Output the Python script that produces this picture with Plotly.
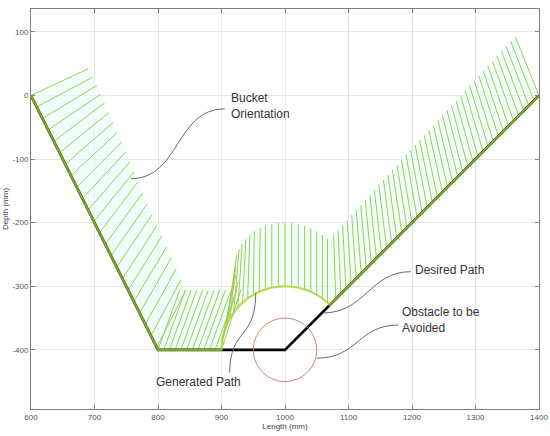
import plotly.graph_objects as go
import math

# ---------------- data ----------------
desired_x = [600, 800, 1000, 1400]
desired_y = [0, -400, -400, 0]

obstacle_center = [1000, -400]
obstacle_radius = 50

# generated path: straight part, then arc around obstacle, then back on desired line
gen_line_x = [600, 800, 900]
gen_line_y = [0, -400, -400]
gen_arc_center = [1000, -400]
gen_arc_radius = 100
gen_arc_deg = [180, 45]
gen_end_x = [1400]
gen_end_y = [0]

# bucket orientation hatches: start points on the path and bucket angle (deg)
hatch_x = [600, 609, 618, 627, 636, 645, 654, 663, 672, 681, 690, 699, 708, 717, 726, 735, 744, 753, 762, 771, 780, 789, 798,
           800, 809, 818, 827, 836, 845, 854, 863, 872, 881, 890,
           900.0, 900.5, 902.2, 904.9, 908.6, 913.4, 919.1, 925.7, 933.1, 941.2, 950.0, 959.3, 969.1, 979.2, 989.5, 1000.0,
           1010.5, 1020.8, 1030.9, 1040.7, 1050.0, 1058.8, 1066.9,
           1080, 1088, 1096, 1104, 1112, 1120, 1128, 1136, 1144, 1152, 1160, 1168, 1176, 1184, 1192, 1200, 1208, 1216, 1224,
           1232, 1240, 1248, 1256, 1264, 1272, 1280, 1288, 1296, 1304, 1312, 1320, 1328, 1336, 1344, 1352, 1360, 1368, 1376,
           1384, 1392, 1400]
hatch_y = [0, -18, -36, -54, -72, -90, -108, -126, -144, -162, -180, -198, -216, -234, -252, -270, -288, -306, -324, -342, -360, -378, -396,
           -400, -400, -400, -400, -400, -400, -400, -400, -400, -400, -400,
           -400.0, -389.5, -379.2, -369.1, -359.3, -350.0, -341.2, -333.1, -325.7, -319.1, -313.4, -308.6, -304.9, -302.2, -300.5, -300.0,
           -300.5, -302.2, -304.9, -308.6, -313.4, -319.1, -325.7,
           -320, -312, -304, -296, -288, -280, -272, -264, -256, -248, -240, -232, -224, -216, -208, -200, -192, -184, -176,
           -168, -160, -152, -144, -136, -128, -120, -112, -104, -96, -88, -80, -72, -64, -56, -48, -40, -32, -24,
           -16, -8, 0]
hatch_angle = [25, 28, 31, 34, 37, 39, 41, 43, 45, 47, 49, 51, 53, 54, 55, 56, 57, 58, 59, 60, 61, 62, 63,
               70, 70, 70, 70, 70, 70, 70, 70, 70, 70, 70,
               72, 75, 78, 80, 82, 84, 85, 86, 87, 88, 89, 89, 90, 90, 90, 90,
               90, 90, 90, 90, 90, 90, 90,
               92, 92.5, 93, 93.5, 94, 94.5, 95, 95.5, 96, 96.5, 97, 97.5, 98, 98.5, 99, 99.5, 100, 100.5, 101,
               101.5, 102, 102.5, 103, 103.5, 104, 104.5, 105, 105.5, 106, 106.5, 107, 107.5, 108, 108.5, 109, 109.5, 110,
               110.5, 111, 111.5, 112]
bucket_len = 100

x_ticks = [600, 700, 800, 900, 1000, 1100, 1200, 1300, 1400]
y_ticks = [-400, -300, -200, -100, 0, 100]
y_ticktext = ["-400", "-300", "-200", "-100", "0", "100"]

labels = ["Bucket<br>Orientation", "Desired Path", "Obstacle to be<br>Avoided", "Generated Path"]
label_x = [912, 1201, 1181, 794]
label_y = [-17, -274, -353, -451]

# connector curves (cubic bezier in data units): start, ctrl1, ctrl2, end
connectors = [
    [(757, -131), (835, -131), (827, -21), (905, -21)],
    [(1060, -342), (1126, -342), (1134, -277), (1198, -277)],
    [(1050, -413), (1115, -413), (1115, -361), (1178, -361)],
    [(954, -310), (954, -385), (913, -365), (913, -436)],
]

# ---------------- build ----------------
tips_x, tips_y = [], []
seg_x, seg_y = [], []
for x0, y0, a in zip(hatch_x, hatch_y, hatch_angle):
    tx = x0 + bucket_len * math.cos(math.radians(a))
    ty = y0 + bucket_len * math.sin(math.radians(a))
    tips_x.append(tx); tips_y.append(ty)
    seg_x += [x0, tx, None]; seg_y += [y0, ty, None]

fig = go.Figure()

# pale fill between path and bucket tips
fig.add_trace(go.Scatter(
    x=hatch_x + tips_x[::-1], y=hatch_y + tips_y[::-1],
    fill="toself", fillcolor="rgba(228,255,246,0.5)", line=dict(width=0),
    mode="lines", hoverinfo="skip"))

fig.add_trace(go.Scatter(x=seg_x, y=seg_y, mode="lines",
                         line=dict(color="#9ccd56", width=1), hoverinfo="skip"))

# desired path
fig.add_trace(go.Scatter(x=desired_x, y=desired_y, mode="lines",
                         line=dict(color="black", width=2.6)))

# generated path
arc_steps = 60
a0, a1 = gen_arc_deg
arc_x = [gen_arc_center[0] + gen_arc_radius * math.cos(math.radians(a0 + (a1 - a0) * k / arc_steps)) for k in range(arc_steps + 1)]
arc_y = [gen_arc_center[1] + gen_arc_radius * math.sin(math.radians(a0 + (a1 - a0) * k / arc_steps)) for k in range(arc_steps + 1)]
fig.add_trace(go.Scatter(x=gen_line_x + arc_x + gen_end_x, y=gen_line_y + arc_y + gen_end_y, mode="lines",
                         line=dict(color="rgba(170,210,45,0.78)", width=2.2)))

shapes = [dict(type="circle", xref="x", yref="y",
               x0=obstacle_center[0] - obstacle_radius, x1=obstacle_center[0] + obstacle_radius,
               y0=obstacle_center[1] - obstacle_radius, y1=obstacle_center[1] + obstacle_radius,
               line=dict(color="#c98a74", width=1))]
for (p0, c1, c2, p1) in connectors:
    shapes.append(dict(type="path", xref="x", yref="y",
                       path=f"M {p0[0]},{p0[1]} C {c1[0]},{c1[1]} {c2[0]},{c2[1]} {p1[0]},{p1[1]}",
                       line=dict(color="#6a6a6a", width=1)))

annotations = [dict(x=lx, y=ly, xref="x", yref="y", text=t, showarrow=False,
                    xanchor="left", yanchor="middle", align="left",
                    font=dict(family="Liberation Sans, Arial", size=12, color="#333333"))
               for t, lx, ly in zip(labels, label_x, label_y)]

axis_common = dict(ticks="inside", ticklen=4, tickcolor="#7f7f7f", showline=True,
                   linecolor="#7f7f7f", linewidth=1, mirror="ticks", showgrid=True,
                   gridcolor="#e6e6e6", gridwidth=1, zeroline=False, automargin=False,
                   tickfont=dict(family="Liberation Sans, Arial", size=8, color="#555555"))

fig.update_layout(
    width=550, height=436, autosize=False,
    margin=dict(l=31, r=11, t=9, b=27),
    paper_bgcolor="white", plot_bgcolor="white",
    showlegend=False,
    shapes=shapes, annotations=annotations,
    xaxis=dict(range=[600, 1400], tickvals=x_ticks,
               title=dict(text="Length (mm)", standoff=2,
                          font=dict(family="Liberation Sans, Arial", size=8, color="#444444")),
               **axis_common),
    yaxis=dict(range=[-493, 136], tickvals=y_ticks, ticktext=y_ticktext,
               title=dict(text="Depth (mm)", standoff=2,
                          font=dict(family="Liberation Sans, Arial", size=8, color="#444444")),
               **axis_common),
)

fig.write_html("out.html", config={"displayModeBar": False},
               post_script="document.body.style.margin='0';document.body.style.overflow='hidden';")
